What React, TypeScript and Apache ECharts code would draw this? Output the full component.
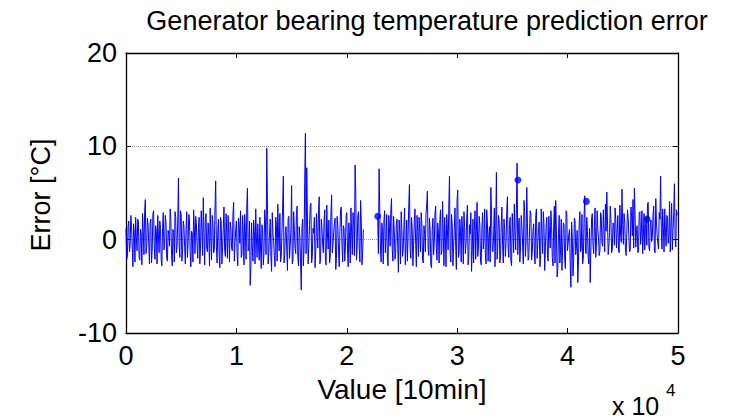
import React, { useEffect, useRef } from "react";
import * as echarts from "echarts";

// Prediction error samples, first run (x = 0 .. 21500, step 125)
const errSegA: number[] = [
  1.2, -1.8, 2.0, -0.6, 1.5, -2.9, 0.8, 2.4, -1.2, 1.9, -2.2, 0.5, 2.8, -1.6, 4.3, -0.9, 1.6, -2.6,
  2.2, -1.0, 3.1, -2.1, 0.9, 2.6, -1.4, 1.2, -2.8, 2.9, -0.5, 1.8, -2.3, 0.6, 3.3, -1.7, 1.1, -2.4, 2.5, -0.8, 6.6, -1.9,
  2.7, -1.1, 1.4, -2.6, 3.0, -0.4, 2.1, -2.9, 0.7, 3.2, -1.5, 1.7, -2.0, 2.4, -0.9, 1.0, 4.5, -2.7, 2.8, -1.3, 0.5, 3.4, -2.2, 1.6, -1.0, 6.3, -2.5, 2.2, -3.0,
  1.9, -0.7, 3.5, -1.8, 0.8, 2.6, -2.4, 1.3, -1.2, 4.0, -0.3, 2.0, -2.8, 1.5, 3.1, -1.6, 0.4, 2.7, -2.1, 5.5, -1.0, -4.9,
  1.8, -2.3, 0.9, 3.3, -1.9, -0.5, 2.4, -3.1, 1.1, -1.4, 2.0, 9.8, -2.6, 0.6, -1.8, 2.9, -0.2, -2.9, 1.5, 3.8, -1.2, -2.4, 0.8, 6.8, -1.7, 1.4, -3.3, 2.5, -0.6, 5.8, -2.2, 1.0, -1.5, 3.6, -2.8, 0.3,
  -5.4, 2.2, -1.1, 11.4, 7.7, -2.6, 1.6, 3.9, -1.8, 0.7, -3.0, 2.8, -0.9, 4.6, -2.1, 1.3, -1.4, 3.2, -2.7, 0.5, 2.1, -1.9, 4.8, -0.6, 1.7, -3.2, 2.5, -1.2, 0.9, 3.5, -2.4, 1.2, -0.8, 2.9, -2.9, 0.4, 3.4, -1.6, 1.9, 8.0, -2.2, 2.6, -1.0, 4.2, -2.7, 1.1,
];
// Samples half a step after each of the above
const errSegAMid: number[] = [
  -2.1, 1.4, -1.3, 2.6, -0.8, 1.7, -2.4, 0.3, 2.2, -1.9, 1.1, -2.7, 0.9, 3.0, -1.5, 2.3, -0.4, 1.8,
  -2.5, 2.8, -0.9, 1.5, -2.6, 0.4, 2.0, -2.2, 1.3, -1.1, 2.6, -2.0, 1.0, -0.7, 2.2, -2.8, 0.8, 3.0, -1.4, 2.1, -0.6, 3.1,
  -2.3, 2.0, -0.8, 1.1, -1.9, 2.7, -1.3, 0.9, -2.4, 1.4, 2.5, -0.6, 1.2, -2.6, 3.1, -1.7, 0.6, 2.3, -0.9, 1.8, -2.8, 0.2, 2.6, -1.4, 3.5, -0.7, 1.0, -1.6, 2.4,
  -2.6, 1.2, -1.1, 2.8, -2.0, 0.6, 1.9, -0.8, 2.7, -2.3, 1.0, -1.5, 2.3, -0.4, -1.9, 2.6, -2.7, 0.9, 3.4, -1.2, 2.0, -2.9,
  -0.8, 2.1, -2.6, 0.2, 1.7, -2.2, -1.0, 1.6, -2.7, 3.2, -1.6, 4.1, -1.3, 2.2, -3.4, 0.7, -1.7, 2.4, -2.3, 0.5, 2.8, -1.8, 3.5, -2.5, 0.9, -1.2, 2.3, -2.0, 1.1, -2.6, 3.0, -0.9, 2.7, -1.9, 1.4, -2.4,
  1.3, -2.8, 6.2, -1.5, 2.0, -0.7, 3.6, -2.5, 1.2, 2.4, -1.3, 0.6, 3.1, -2.6, 2.2, -0.5, 1.9, -2.2, 3.7, -1.0, -2.5, 2.9, -1.4, 0.8, 2.3, -2.0, 1.4, -2.9, 3.2, -0.6, 1.5, -2.3, 2.6, -1.1, 1.8, -2.5, 0.7, 2.9, -1.7, 5.1, -0.8, 3.0, -2.4, 1.9, -1.3,
];
const segAStart = 0;

// Prediction error samples, second run (x = 22800 .. 49925, step 125)
const errSegB: number[] = [
  2.4, 7.6, -1.2, 1.8, -2.6, 3.1, 0.2, -1.9, 2.6, -0.7, 4.4, -2.3, 1.0, -1.5, 2.2,
  -3.5, 0.8, 3.0, -1.8, 1.5, -2.7, 2.1, 0.4, 5.9, -2.0, 1.2, -0.6, 3.3, -2.9, 0.9, 2.4,
  -1.3, 1.7, -2.5, 0.6, 2.8, 5.2, -1.7, 1.1, -3.0, 2.3, -0.4, 3.6, -2.2, 0.7, 1.9, -1.6, 4.1, -2.8, 0.3, 2.7,
  -1.1, 6.8, -2.4, 1.5, -0.8, 3.4, -3.2, 5.3, -1.4, 0.9, 2.5, -2.6, 1.3, -0.5, 3.7, -1.9, 0.6, -3.4, 2.2, 1.0,
  -2.1, 4.0, -0.9, 1.6, -2.7, 2.9, 0.1, -1.5, 3.2, -2.3, 1.4, 5.6, -1.2, 0.5, -2.9, 7.2, -0.8, 2.0, -1.7, 3.5,
  -2.5, 1.1, -0.3, 4.6, -1.9, 2.4, -2.8, 0.8, 3.8, -1.1, 8.2, 1.2, -2.4, 2.6, -0.6, 4.2, -1.8, 5.6, -2.2, 0.9,
  2.8, -1.4, 1.7, -2.6, 3.3, -0.5, 1.9, -2.1, 0.6, 3.0, -3.3, 1.2, -1.6, 2.5, -0.9, 1.5, -2.8, 3.6, 4.2, -4.0,
  0.7, -2.5, 2.2, -1.0, 1.6, -3.1, 2.9, -0.4, 1.1, -5.1, 0.3, -2.2, 2.0, -0.8, -4.6, 1.8, -1.3, 2.7, -2.0, 4.7,
  -1.5, 0.9, -2.6, -4.6, 2.3, -0.6, 1.4, -1.9, 3.1, 0.2, -1.2, 2.5, -0.7, 1.0, 3.8, 5.1, -1.6, 0.8, 2.2, -1.0,
  1.7, 3.4, -0.9, 2.6, -1.4, 0.6, 5.4, -0.5, 1.9, -1.7, 3.2, 0.4, -1.1, 2.4, 4.3, 5.5, -0.8, 1.5, -1.3, 3.0,
  0.7, -1.5, 2.8, 1.2, -0.6, 4.0, -1.2, 2.1, 0.3, 3.6, -1.4, 1.8, -0.4, 2.9, 6.8, -1.0, 1.3, 3.3, -0.7, 2.4, 0.5, -1.3, 3.9, 1.0, 6.0, -0.8, 2.6,
];
const errSegBMid: number[] = [
  -1.5, 2.9, -2.4, 0.9, 2.0, -1.4, 2.7, -2.8, 1.3, 3.1, -1.0, 2.5, -2.1, 1.6, -0.7,
  2.1, -2.6, 1.1, -0.9, 3.4, -0.4, -2.3, 3.6, -1.1, 2.4, -2.8, 1.9, -0.5, 2.6, -1.8, 0.8,
  2.9, -2.2, 1.5, -1.3, 3.7, -0.8, 2.3, -2.7, 1.0, -1.6, 2.8, -0.9, 1.8, -2.5, 3.2, -1.2, 0.6, 2.4, -2.9, 1.1,
  3.5, -1.6, 2.7, -2.8, 1.3, -0.7, 4.2, -1.9, 2.2, -2.4, 0.8, 3.0, -1.5, 2.4, -2.7, 1.6, 2.9, -1.2, -2.5, 3.1,
  0.9, -1.8, 2.5, -2.3, 1.2, -1.0, 3.3, -2.6, 1.8, 0.4, -2.4, 2.7, -1.3, 3.4, 1.1, -2.1, 2.6, -2.5, 1.5, -0.6,
  2.2, -1.8, 3.0, -0.9, 1.6, -2.3, 2.8, -1.4, 0.7, 3.5, -1.6, 2.3, -0.8, 1.4, -2.6, 2.9, -0.5, 1.8, -1.9, 3.1,
  -2.2, 0.9, -1.1, 2.6, -2.0, 1.2, -2.9, 3.3, -1.5, 1.7, -0.8, 2.4, -2.3, 0.6, 3.1, -1.9, 1.4, -2.5, 0.9, -3.1,
  2.6, -1.1, -3.3, 1.8, -2.1, 3.1, -1.2, 0.6, -2.7, 1.9, -3.9, 2.3, -1.6, 1.0, -2.2, 3.0, -0.9, -2.6, 2.1, -1.0,
  2.4, -1.9, 1.2, -0.8, 2.8, -1.5, 3.4, -0.6, 1.1, -1.7, 2.9, -0.4, 3.2, -1.3, 0.9, 2.1, -0.7, 3.6, -1.4, 1.8,
  -0.6, 2.2, 0.8, -1.2, 3.7, -0.3, 1.6, 2.8, -1.0, 0.7, 2.3, -1.3, 3.5, 0.4, -0.9, 2.6, 1.0, -1.4, 2.9, -0.5,
  3.1, 0.6, -1.1, 2.4, 3.8, -0.8, 1.5, -0.2, 2.7, -1.2, 4.4, 0.5, -1.0, 2.2, 1.1, 3.3, -1.3, 0.8, 2.6, -0.4, 4.1, 1.4, -1.1, 2.9, 0.3, 3.2,
];
const segBStart = 22800;
const sampleStep = 125;

// Isolated samples drawn as dots
const dotX: number[] = [22800, 35500, 41700, 47200];
const dotY: number[] = [2.5, 6.4, 4.1, 2.2];

const xTickLabels: string[] = ["0", "1", "2", "3", "4", "5"];
const yTicks: number[] = [-10, 0, 10, 20];

const FONT = "Liberation Sans, Arial, sans-serif";

function buildSeg(start: number, main: number[], mid: number[]) {
  const out: number[][] = [];
  main.forEach((v, i) => {
    out.push([start + i * sampleStep, v]);
    if (i < mid.length) out.push([start + i * sampleStep + sampleStep / 2, mid[i]]);
  });
  return out;
}

export default function App() {
  const ref = useRef<HTMLDivElement>(null);
  useEffect(() => {
    if (!ref.current) return;
    const chart = echarts.init(ref.current, undefined, { renderer: "svg" });
    const segA = buildSeg(segAStart, errSegA, errSegAMid);
    const segB = buildSeg(segBStart, errSegB, errSegBMid);
    const dots = dotX.map((x, i) => [x, dotY[i]]);
    const tickStyle = { show: true, inside: true, length: 5, lineStyle: { color: "#000", width: 1 } };
    const lineStyle = { show: true, onZero: false, lineStyle: { color: "#000", width: 1.3 } };
    chart.setOption({
      animation: false,
      backgroundColor: "#fff",
      grid: { left: 126, right: 61, top: 53, bottom: 87, containLabel: false },
      xAxis: [
        {
          type: "value",
          min: 0,
          max: 50000,
          interval: 10000,
          position: "bottom",
          axisLine: lineStyle,
          axisTick: tickStyle,
          splitLine: { show: false },
          axisLabel: {
            color: "#000",
            fontSize: 27,
            fontFamily: FONT,
            margin: 9,
            formatter: (v: number) => xTickLabels[Math.round(v / 10000)],
          },
        },
        {
          type: "value",
          min: 0,
          max: 50000,
          interval: 10000,
          position: "top",
          axisLine: lineStyle,
          axisTick: tickStyle,
          splitLine: { show: false },
          axisLabel: { show: false },
        },
      ],
      yAxis: [
        {
          type: "value",
          min: yTicks[0],
          max: yTicks[yTicks.length - 1],
          interval: 10,
          position: "left",
          axisLine: lineStyle,
          axisTick: tickStyle,
          splitLine: { show: true, lineStyle: { color: "#999", type: [1, 1], width: 1 } },
          axisLabel: { color: "#000", fontSize: 27, fontFamily: FONT, margin: 9 },
        },
        {
          type: "value",
          min: yTicks[0],
          max: yTicks[yTicks.length - 1],
          interval: 10,
          position: "right",
          axisLine: lineStyle,
          axisTick: tickStyle,
          splitLine: { show: false },
          axisLabel: { show: false },
        },
      ],
      series: [
        {
          type: "line",
          data: segA,
          showSymbol: false,
          symbol: "none",
          lineStyle: { color: "#0000ff", width: 1 },
          z: 3,
        },
        {
          type: "line",
          data: segB,
          showSymbol: false,
          symbol: "none",
          lineStyle: { color: "#0000ff", width: 1 },
          z: 3,
        },
        {
          type: "scatter",
          data: dots,
          symbolSize: 7,
          itemStyle: { color: "#0000ff" },
          z: 4,
        },
      ],
      graphic: [
        {
          type: "text",
          x: 427,
          y: 21,
          style: {
            text: "Generator bearing temperature prediction error",
            fontSize: 27,
            fontFamily: FONT,
            fill: "#000",
            align: "center",
            verticalAlign: "middle",
          },
        },
        {
          type: "text",
          x: 402,
          y: 389,
          style: {
            text: "Value [10min]",
            fontSize: 28,
            fontFamily: FONT,
            fill: "#000",
            align: "center",
            verticalAlign: "middle",
          },
        },
        {
          type: "text",
          x: 41,
          y: 195,
          rotation: Math.PI / 2,
          style: {
            text: "Error [°C]",
            fontSize: 27,
            fontFamily: FONT,
            fill: "#000",
            align: "center",
            verticalAlign: "middle",
          },
        },
        {
          type: "text",
          x: 612,
          y: 406,
          style: {
            text: "x 10",
            fontSize: 25,
            fontFamily: FONT,
            fill: "#000",
            align: "left",
            verticalAlign: "middle",
          },
        },
        {
          type: "text",
          x: 666,
          y: 390,
          style: {
            text: "4",
            fontSize: 17,
            fontFamily: FONT,
            fill: "#000",
            align: "left",
            verticalAlign: "middle",
          },
        },
      ],
    });
    return () => chart.dispose();
  }, []);
  return (
    <div
      ref={ref}
      style={{ position: "fixed", left: 0, top: 0, width: 739, height: 420, background: "#fff" }}
    />
  );
}
